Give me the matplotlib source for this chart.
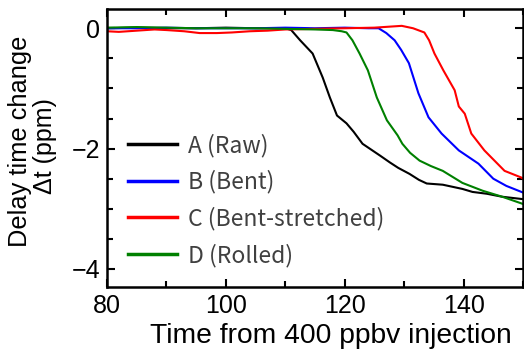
import numpy as np
import matplotlib
matplotlib.use("Agg")
import matplotlib.pyplot as plt
from matplotlib.ticker import MultipleLocator

plt.rcParams['font.family'] = ['Liberation Sans', 'DejaVu Sans']

# curves (time in s, delay change in ppm)
xA = [80, 85, 90, 95, 100, 105, 108, 110, 111, 112.5, 114.6, 116.3, 117.5, 118.7, 120.3, 121.5, 123,
      124.2, 126, 127.6, 129, 130.9, 132.5, 133.8, 136.5, 139.8, 141.5, 143.9, 146.5, 150]
yA = [0, 0.01, 0, 0, 0.01, 0, 0, 0, -0.03, -0.2, -0.42, -0.82, -1.15, -1.45, -1.58, -1.72, -1.92,
      -2.0, -2.12, -2.23, -2.32, -2.42, -2.52, -2.58, -2.6, -2.67, -2.72, -2.75, -2.8, -2.84]

xB = [80, 85, 90, 95, 100, 105, 110, 115, 120, 124, 125.7, 127, 128.4, 129.5, 130.8, 132.4, 134.1,
      136.3, 139.2, 142.5, 145, 147.2, 150]
yB = [0, 0, 0.01, 0, 0, 0, 0.01, 0, 0.01, 0, 0, -0.08, -0.2, -0.36, -0.58, -1.08, -1.48,
      -1.75, -2.03, -2.25, -2.5, -2.62, -2.73]

xC = [80, 82, 85, 88, 90, 93, 95.6, 98.5, 101, 104, 107, 110, 115, 120, 125, 129.6, 131.5, 133.4,
      134.2, 135.1, 136.6, 138.5, 139.2, 140.2, 141.3, 143.5, 146.9, 149.7, 150]
yC = [-0.05, -0.06, -0.04, -0.02, -0.03, -0.05, -0.08, -0.08, -0.07, -0.05, -0.04, -0.02, -0.01, 0, 0.01,
      0.04, 0, -0.07, -0.2, -0.42, -0.7, -1.03, -1.3, -1.42, -1.75, -2.03, -2.37, -2.48, -2.5]

xD = [80, 85, 90, 95, 100, 105, 110, 115, 118, 119.5, 120.3, 121.3, 122.5, 123.9, 125.4, 127.1, 128.9,
      129.7, 131, 132.6, 134.5, 136.5, 139.8, 143.2, 146.5, 150]
yD = [0.01, 0.02, 0.01, 0, 0, 0, -0.01, -0.02, -0.03, -0.05, -0.07, -0.2, -0.42, -0.7, -1.15, -1.53, -1.78,
      -1.92, -2.07, -2.2, -2.29, -2.37, -2.57, -2.7, -2.8, -2.92]

labels = ['A (Raw)', 'B (Bent)', 'C (Bent-stretched)', 'D (Rolled)']
colors = ['black', 'blue', 'red', 'green']

W, H = 524, 361
fig = plt.figure(figsize=(W / 100, H / 100), dpi=100)
ax = fig.add_axes([107 / W, 1 - 287 / H, 416 / W, 278 / H])

for xs, ys, lab, c in zip([xA, xB, xC, xD], [yA, yB, yC, yD], labels, colors):
    ax.plot(xs, ys, color=c, lw=1.5, label=lab)

ax.set_xlim(80, 150)
ax.set_ylim(-4.3, 0.32)
ax.xaxis.set_major_locator(MultipleLocator(20))
ax.xaxis.set_minor_locator(MultipleLocator(10))
ax.yaxis.set_major_locator(MultipleLocator(2))
ax.yaxis.set_minor_locator(MultipleLocator(0.5))
ax.tick_params(which='both', direction='in', top=True, right=True, width=1.5, labelsize=18, pad=5)
ax.tick_params(which='major', length=6)
ax.tick_params(which='minor', length=4)
for s in ax.spines.values():
    s.set_linewidth(1.8)

fig.text(150 / W, 1 - 343 / H, 'Time from 400 ppbv injection', fontsize=20.3, ha='left', va='baseline')
fig.text(27 / W, 1 - 141.5 / H, 'Delay time change', fontsize=18.3, rotation=90,
         rotation_mode='anchor', ha='center', va='baseline')
fig.text(52 / W, 1 - 146 / H, 'Δt (ppm)', fontsize=18, rotation=90,
         rotation_mode='anchor', ha='center', va='baseline')

leg = ax.legend(loc='upper left', bbox_to_anchor=(0.05, 0.553), frameon=False,
                prop={'family': ['Noto Sans CJK JP', 'DejaVu Sans'], 'size': 16.5},
                handlelength=2.14, labelspacing=0.57, handletextpad=0.5,
                borderaxespad=0, borderpad=0)
for t in leg.get_texts():
    t.set_color('#404040')
for h in leg.get_lines():
    h.set_linewidth(2.5)

fig.savefig('out.png', dpi=100)
